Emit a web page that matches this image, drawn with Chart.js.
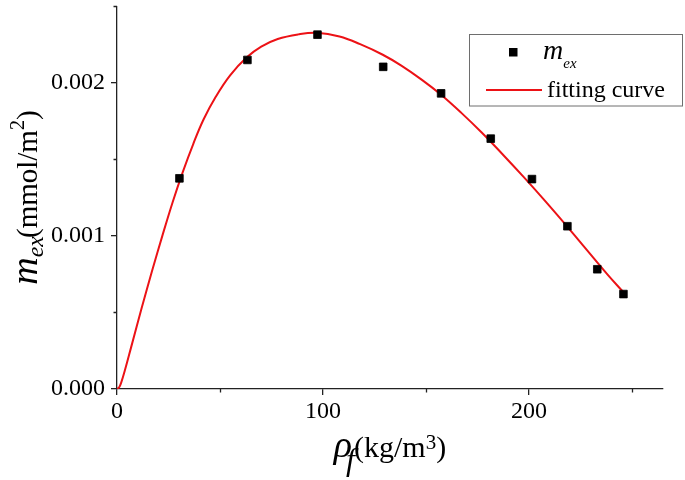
<!DOCTYPE html>
<html>
<head>
<meta charset="utf-8">
<script src="https://cdn.jsdelivr.net/npm/chart.js@4.4.0/dist/chart.umd.min.js"></script>
<style>
html,body{margin:0;padding:0;background:#fff;}
#wrap{width:685px;height:480px;position:relative;}
</style>
</head>
<body>
<div id="wrap"><canvas id="c" width="685" height="480"></canvas></div>
<script>
// measured points (m_ex)
const pointX = [30.3, 63.3, 97.3, 129.2, 157.3, 181.4, 201.4, 218.6, 233.1, 245.8];
const pointY = [0.001376, 0.002149, 0.002314, 0.002104, 0.001931, 0.001635, 0.001371, 0.001063, 0.000782, 0.000620];
// fitting curve
const curveX = [0, 1, 2, 4, 7, 12, 17, 22, 27, 32, 37, 42, 48, 55, 63, 70, 78, 88, 97, 108, 118, 129, 138, 148, 157, 167, 177, 187, 197, 207, 218, 228, 238, 246];
const curveY = [0, 0.00001, 0.00004, 0.00013, 0.00028, 0.00053, 0.00077, 0.00100, 0.00122, 0.00142, 0.00160, 0.00176, 0.00191, 0.00205, 0.002166, 0.002236, 0.002286, 0.002316, 0.002326, 0.002302, 0.002252, 0.002183, 0.002112, 0.002019, 0.001925, 0.001805, 0.001675, 0.001535, 0.00139, 0.00124, 0.001069, 0.000909, 0.000749, 0.000629];
// axis ticks
const xMajorTicks = [0, 100, 200];
const xMinorTicks = [50, 150, 250];
const yMajorTicks = [0, 0.001, 0.002];
const yMinorTicks = [0.0005, 0.0015, 0.0025];
const xRange = [0, 265];
const yRange = [0, 0.0025];

const SERIF = '"Liberation Serif", "Times New Roman", serif';
const AXIS_COLOR = '#222';
const RED = 'rgb(236,18,22)';

function drawParts(ctx, parts, x, y, align) {
  let total = 0;
  parts.forEach(p => { ctx.font = p.font; p.w = ctx.measureText(p.t).width + (p.dx || 0); total += p.w; });
  let cx = align === 'center' ? x - total / 2 : x;
  parts.forEach(p => {
    ctx.font = p.font;
    ctx.fillText(p.t, cx, y + (p.dy || 0));
    cx += p.w;
  });
}

const decor = {
  id: 'decor',
  afterDraw(chart) {
    const ctx = chart.ctx;
    const xs = chart.scales.x, ys = chart.scales.y;
    const area = chart.chartArea;
    ctx.save();
    // minor ticks
    ctx.strokeStyle = AXIS_COLOR;
    ctx.lineWidth = 1.3;
    ctx.beginPath();
    xMinorTicks.forEach(v => {
      const px = Math.round(xs.getPixelForValue(v)) + 0.5;
      ctx.moveTo(px, area.bottom);
      ctx.lineTo(px, area.bottom + 3.5);
    });
    yMinorTicks.forEach(v => {
      const py = Math.round(ys.getPixelForValue(v)) + 0.5;
      ctx.moveTo(area.left, py);
      ctx.lineTo(area.left - 3.5, py);
    });
    ctx.stroke();

    ctx.fillStyle = '#000';
    ctx.textBaseline = 'alphabetic';
    ctx.textAlign = 'left';
    // x title
    const xc = (area.left + area.right) / 2;
    drawParts(ctx, [
      {t: 'ρ', font: 'italic 38px ' + SERIF, dx: -6},
      {t: 'f', font: 'italic 32px ' + SERIF, dy: 13, dx: -1},
      {t: '(kg/m', font: '30px ' + SERIF},
      {t: '3', font: '21px ' + SERIF, dy: -8},
      {t: ')', font: '30px ' + SERIF}
    ], xc, 457, 'center');

    // y title
    ctx.save();
    ctx.translate(37, (area.top + area.bottom) / 2);
    ctx.rotate(-Math.PI / 2);
    drawParts(ctx, [
      {t: 'm', font: 'italic 38px ' + SERIF},
      {t: 'ex', font: 'italic 24px ' + SERIF, dy: 6, dx: -2},
      {t: '(mmol/m', font: '29px ' + SERIF},
      {t: '2', font: '20px ' + SERIF, dy: -13},
      {t: ')', font: '29px ' + SERIF}
    ], 0, 0, 'center');
    ctx.restore();

    // legend
    ctx.fillStyle = '#fff';
    ctx.fillRect(469.5, 34.5, 213, 71.5);
    ctx.strokeStyle = '#6e6e6e';
    ctx.lineWidth = 1;
    ctx.strokeRect(469.5, 34.5, 213, 71.5);
    const ds0 = chart.data.datasets[0];
    ctx.fillStyle = ds0.backgroundColor;
    ctx.fillRect(509, 48, 8.5, 8.5);
    ctx.fillStyle = '#000';
    drawParts(ctx, [
      {t: 'm', font: 'italic 28px ' + SERIF},
      {t: 'ex', font: 'italic 15px ' + SERIF, dy: 9}
    ], 543, 59, 'left');
    const ds1 = chart.data.datasets[1];
    ctx.strokeStyle = ds1.borderColor;
    ctx.lineWidth = 2;
    ctx.beginPath();
    ctx.moveTo(486, 90);
    ctx.lineTo(542, 90);
    ctx.stroke();
    ctx.font = '24px ' + SERIF;
    ctx.fillText('fitting curve', 547, 97);
    ctx.restore();
  }
};

const scatterData = pointX.map((x, i) => ({x, y: pointY[i]}));
const curveData = curveX.map((x, i) => ({x, y: curveY[i]}));

new Chart(document.getElementById('c'), {
  type: 'scatter',
  data: {
    datasets: [
      {
        label: 'm_ex',
        data: scatterData,
        pointStyle: 'rect',
        pointRadius: 5.4,
        pointBorderWidth: 0.8,
        backgroundColor: '#000',
        borderColor: '#000',
        showLine: false
      },
      {
        label: 'fitting curve',
        type: 'line',
        data: curveData,
        borderColor: RED,
        borderWidth: 2,
        pointRadius: 0,
        fill: false,
        tension: 0.4,
        showLine: true
      }
    ]
  },
  options: {
    responsive: false,
    animation: false,
    devicePixelRatio: 1,
    layout: {padding: {top: 3, right: 22, left: 0, bottom: 0}},
    plugins: {legend: {display: false}, tooltip: {enabled: false}},
    scales: {
      x: {
        type: 'linear',
        min: xRange[0], max: xRange[1],
        afterFit(s) { s.height = 91; s.paddingLeft = 0; s.paddingRight = 0; },
        afterBuildTicks(s) { s.ticks = xMajorTicks.map(v => ({value: v})); },
        ticks: {
          autoSkip: false, maxRotation: 0, padding: 2,
          color: '#000',
          font: {family: SERIF, size: 24},
          callback: v => String(v)
        },
        grid: {drawOnChartArea: false, drawTicks: true, tickLength: 6, color: AXIS_COLOR, lineWidth: 1.3},
        border: {color: AXIS_COLOR, width: 1.3},
        title: {display: false}
      },
      y: {
        type: 'linear',
        min: yRange[0], max: yRange[1],
        afterFit(s) { s.width = 117; s.paddingTop = 0; s.paddingBottom = 0; },
        afterBuildTicks(s) { s.ticks = yMajorTicks.map(v => ({value: v})); },
        ticks: {
          autoSkip: false, padding: 6,
          color: '#000',
          font: {family: SERIF, size: 24},
          callback: v => Number(v).toFixed(3)
        },
        grid: {drawOnChartArea: false, drawTicks: true, tickLength: 6, color: AXIS_COLOR, lineWidth: 1.3},
        border: {color: AXIS_COLOR, width: 1.3},
        title: {display: false}
      }
    }
  },
  plugins: [decor]
});
</script>
</body>
</html>
